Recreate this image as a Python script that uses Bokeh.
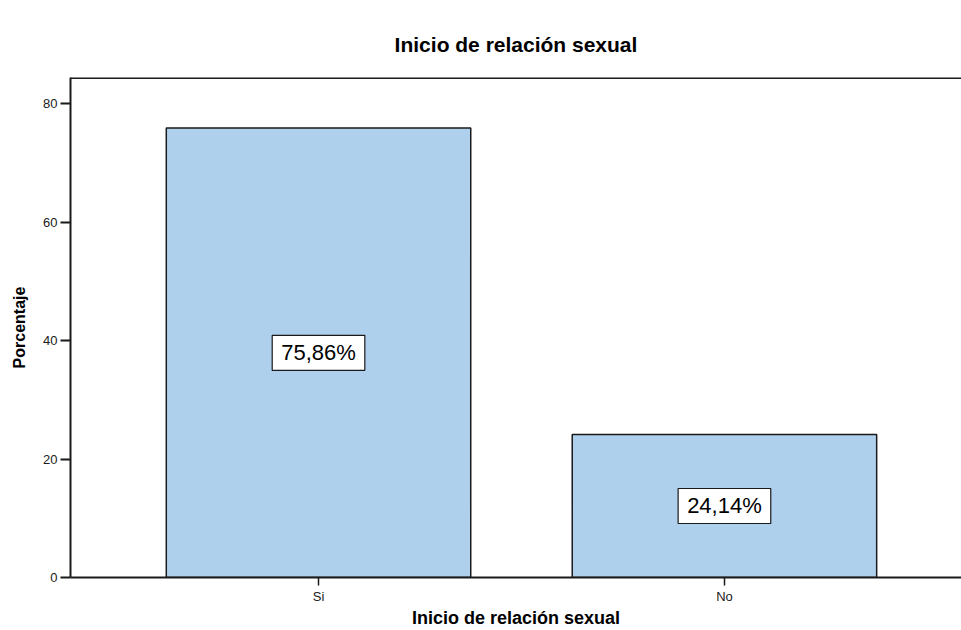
from bokeh.plotting import figure
from bokeh.models import Range1d, FixedTicker, Span, ColumnDataSource
from bokeh.core.properties import value
from bokeh.embed import file_html
from bokeh.resources import INLINE

# Survey answers and their share of respondents (%)
categories = ["Si", "No"]
percentages = [75.86, 24.14]
positions = [1, 2]
y_ticks = [0, 20, 40, 60, 80]

labels = [f"{v:.2f}".replace(".", ",") + "%" for v in percentages]
mids = [v / 2 for v in percentages]

src = ColumnDataSource(dict(x=positions, top=percentages, mid=mids, label=labels))

FONT = "Liberation Sans"
INK = "#1a1a1a"
Y_MAX = 84.4

p = figure(
    width=961, height=630,
    output_backend="svg", toolbar_location=None,
    x_range=Range1d(0.389, 2.584), y_range=Range1d(0, Y_MAX),
    min_border_left=70, min_border_right=0,
    min_border_top=77, min_border_bottom=53,
    background_fill_color="white", border_fill_color="white",
)
p.outline_line_color = None
p.grid.visible = False

# Title, nudged left so it sits in the middle of the whole canvas
p.title.text = "Inicio de relación sexual"
p.title.align = "center"
p.title.offset = -35
p.title.text_font = FONT
p.title.text_font_size = "21px"
p.title.text_font_style = "bold"
p.title.text_color = "black"
p.title.standoff = 44

# Bars
p.vbar(x="x", top="top", bottom=0, width=0.75, source=src,
       fill_color="#afd0ed", line_color=INK, line_width=1.5)

# Value labels in white boxes
p.text(x="x", y="mid", text="label", source=src,
       text_font=value(FONT), text_font_size="22px", text_color="black",
       text_align="center", text_baseline="middle",
       background_fill_color="white", border_line_color=INK,
       border_line_width=1.2, padding=(9, 5))

# Y axis
ya = p.yaxis[0]
ya.ticker = FixedTicker(ticks=y_ticks)
ya.axis_label = "Porcentaje"
ya.axis_label_text_font = FONT
ya.axis_label_text_font_size = "16px"
ya.axis_label_text_font_style = "bold"
ya.axis_label_text_color = "black"
ya.axis_label_standoff = 12
ya.major_label_text_font = FONT
ya.major_label_text_font_size = "13px"
ya.major_label_text_color = INK
ya.major_label_standoff = 3
ya.major_tick_out = 10
ya.major_tick_in = 0
ya.minor_tick_line_color = None
ya.axis_line_width = 2
ya.axis_line_color = INK
ya.major_tick_line_width = 2
ya.major_tick_line_color = INK

# X axis
xa = p.xaxis[0]
xa.ticker = FixedTicker(ticks=positions)
xa.major_label_overrides = {pos: cat for pos, cat in zip(positions, categories)}
xa.axis_label = "Inicio de relación sexual"
xa.axis_label_text_font = FONT
xa.axis_label_text_font_size = "18px"
xa.axis_label_text_font_style = "bold"
xa.axis_label_text_color = "black"
xa.axis_label_standoff = 1
xa.major_label_text_font = FONT
xa.major_label_text_font_size = "13px"
xa.major_label_text_color = INK
xa.major_label_standoff = 3
xa.major_tick_out = 8
xa.major_tick_in = 0
xa.minor_tick_line_color = None
xa.axis_line_width = 2
xa.axis_line_color = INK
xa.major_tick_line_width = 1.5
xa.major_tick_line_color = INK

# Top frame line
p.add_layout(Span(location=Y_MAX, dimension="width", line_color=INK, line_width=3))

open("out.html", "w").write(file_html(p, INLINE))
